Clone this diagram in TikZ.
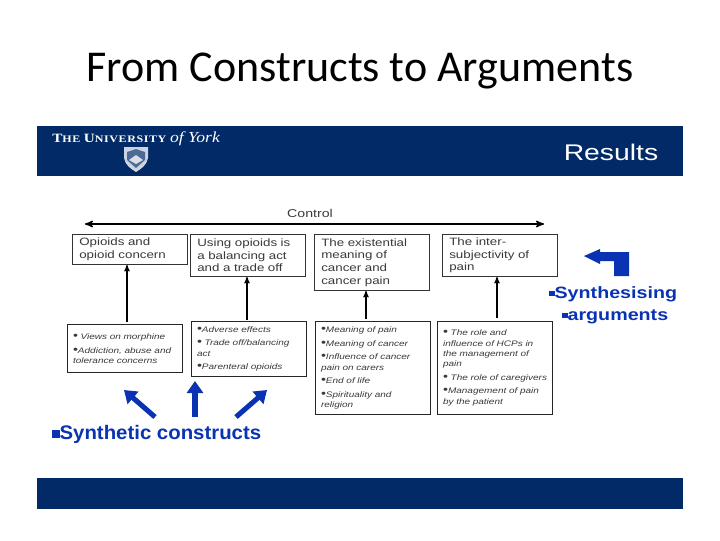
\documentclass[tikz,border=0pt]{standalone}
\usepackage{fontspec}
\usepackage{tikz}
\usetikzlibrary{arrows,arrows.meta,positioning,calc}
\setmainfont{Liberation Sans}
\newfontfamily\titlefont{Carlito}
\newfontfamily\boxfont[FakeStretch=1.25]{Liberation Sans}
\newfontfamily\headfont[FakeStretch=1.2]{Liberation Sans}
\newfontfamily\constructfont[FakeStretch=1.04]{Liberation Sans}
\newfontfamily\yorkfont[FakeStretch=1.2,LetterSpace=6]{Liberation Serif}
\newfontfamily\ofyorkfont[FakeStretch=1.15]{Liberation Serif}
\newcommand{\bul}{{\upshape\fontsize{8.5}{7.7}\selectfont\textbullet}}
\newcommand{\sq}[1]{\rule[1.5pt]{#1}{#1}}
\newcommand{\bigsc}[1]{{\fontsize{9.5}{10}\selectfont #1}}
\definecolor{yorkblue}{HTML}{012A66}
\definecolor{synthblue}{HTML}{0A33B4}
\definecolor{boxtext}{HTML}{3A3A3A}

\begin{document}
\begin{tikzpicture}[x=0.75pt,y=-0.75pt,
  band/.style={fill=yorkblue,draw=none,inner sep=0pt,minimum width=484.5pt,anchor=north west},
  topbox/.style={draw=black!80,line width=0.7pt,fill=white,anchor=north west,inner sep=0pt,
    minimum width=86.25pt,text width=76pt,align=left,text=boxtext,
    font=\boxfont\fontsize{8}{9.4}\selectfont},
  lowbox/.style={draw=black!85,line width=0.8pt,fill=white,anchor=north west,inner sep=0pt,
    minimum width=86.25pt,text width=78pt,align=left,text=boxtext,
    font=\boxfont\itshape\fontsize{6}{7.7}\selectfont},
  thin flow/.style={->,>=stealth',line width=0.8pt,black},
  blue flow/.style={-{Triangle[length=9pt,width=12pt]},line width=3.8pt,synthblue},
  synth/.style={text=synthblue,inner sep=0pt,font=\headfont\bfseries\fontsize{12.3}{14}\selectfont}]
  \useasboundingbox (0,0) rectangle (720,540);

  \node (title) at (360,71) {\titlefont\fontsize{33}{38}\selectfont From Constructs to Arguments};

  % blue bands
  \node[band,minimum height=37.5pt] (topband) at (37,126) {};
  \node[band,minimum height=23.25pt] (botband) at (37,478) {};
  \node[text=white,inner sep=0pt,anchor=west] (york) at (52,139)
     {\yorkfont\bfseries\fontsize{7.5}{9}\selectfont \bigsc{T}HE \bigsc{U}NIVERSITY {\ofyorkfont\mdseries\itshape\fontsize{11.5}{12}\selectfont of York}};
  \node[text=white,inner sep=0pt] (results) at (611,152) {\boxfont\fontsize{17}{19}\selectfont Results};

  % crest
  \fill[white!80!yorkblue] (124,147) -- (148,147) -- (148,158) .. controls (147,165) and (141,169) .. (136,172)
     .. controls (131,169) and (125,165) .. (124,158) -- cycle;
  \fill[yorkblue!70!white] (127,152) -- (136,149) -- (145,152) -- (145,160) -- (136,168) -- (127,160) -- cycle;
  \fill[white!85!yorkblue] (129,160) -- (136,155) -- (143,160) -- (136,164) -- cycle;

  % top row
  \node[topbox,minimum height=22.5pt] (opioids) at (72,234) {Opioids and\\opioid concern};
  \node[topbox,minimum height=31.5pt] (balance) at (190,234) {Using opioids is\\a balancing act\\and a trade off};
  \node[topbox,minimum height=42pt] (exist) at (314,234) {The existential\\meaning of\\cancer and\\cancer pain};
  \node[topbox,minimum height=31.5pt] (inter) at (442,234) {The inter-\\subjectivity of\\pain};

  % control line
  \coordinate (ctrlL) at (85,224);
  \coordinate (ctrlR) at (544,224);
  \draw[<->,>=stealth',line width=1.1pt] (ctrlL) -- (ctrlR);
  \node[text=boxtext,font=\boxfont\fontsize{8.5}{9.4}\selectfont,inner sep=0pt] (control) at (310,213) {Control};

  % bottom row
  \node[lowbox,minimum height=36pt] (views) at (67,324)
     {\bul\ Views on morphine\\[2.5pt]\bul Addiction, abuse and\\tolerance concerns};
  \node[lowbox,minimum height=41.25pt] (adverse) at (191,321)
     {\bul Adverse effects\\[2.5pt]\bul\ Trade off/balancing\\act\\[2.5pt]\bul Parenteral opioids};
  \node[lowbox,minimum height=69.75pt] (meaning) at (315,321)
     {\bul Meaning of pain\\[2.5pt]\bul Meaning of cancer\\[2.5pt]\bul Influence of cancer\\pain on carers\\[2.5pt]\bul End of life\\[2.5pt]\bul Spirituality and\\religion};
  \node[lowbox,minimum height=69.75pt] (role) at (437,321)
     {\bul\ The role and\\influence of HCPs in\\the management of\\pain\\[2.5pt]\bul\ The role of caregivers\\[2.5pt]\bul Management of pain\\by the patient\\[4pt]};

  % thin arrows
  \coordinate (a1) at (127,322);
  \coordinate (a2) at (247,320);
  \coordinate (a3) at (366,319);
  \coordinate (a4) at (497,318);
  \draw[thin flow] (a1) -- (a1 |- opioids.south);
  \draw[thin flow] (a2) -- (a2 |- balance.south);
  \draw[thin flow] (a3) -- (a3 |- exist.south);
  \draw[thin flow] (a4) -- (a4 |- inter.south);

  % bent arrow
  \fill[synthblue] (584,256) -- (600,249) -- (600,252) -- (629,252) -- (629,276) -- (614,276) -- (614,261)
     -- (600,261) -- (600,264) -- cycle;

  \node[synth,anchor=west] (synthesising) at (549,294) {\sq{4pt}Synthesising};
  \node[synth,anchor=west] (arguments) at (562,316.5) {\sq{4pt}arguments};
  \node[synth,anchor=west,font=\constructfont\bfseries\fontsize{14.7}{16}\selectfont] (constructs) at (52,434.5) {\sq{5.5pt}Synthetic constructs};

  % blue arrows
  \coordinate (sL) at (155,417);
  \coordinate (sM) at (195,417);
  \coordinate (sR) at (236,417);
  \coordinate (tL) at (124,390);
  \coordinate (tM) at (195,381);
  \coordinate (tR) at (267,390);
  \draw[blue flow] (sL) -- (tL);
  \draw[blue flow] (sM) -- (tM);
  \draw[blue flow] (sR) -- (tR);
\end{tikzpicture}
\end{document}
